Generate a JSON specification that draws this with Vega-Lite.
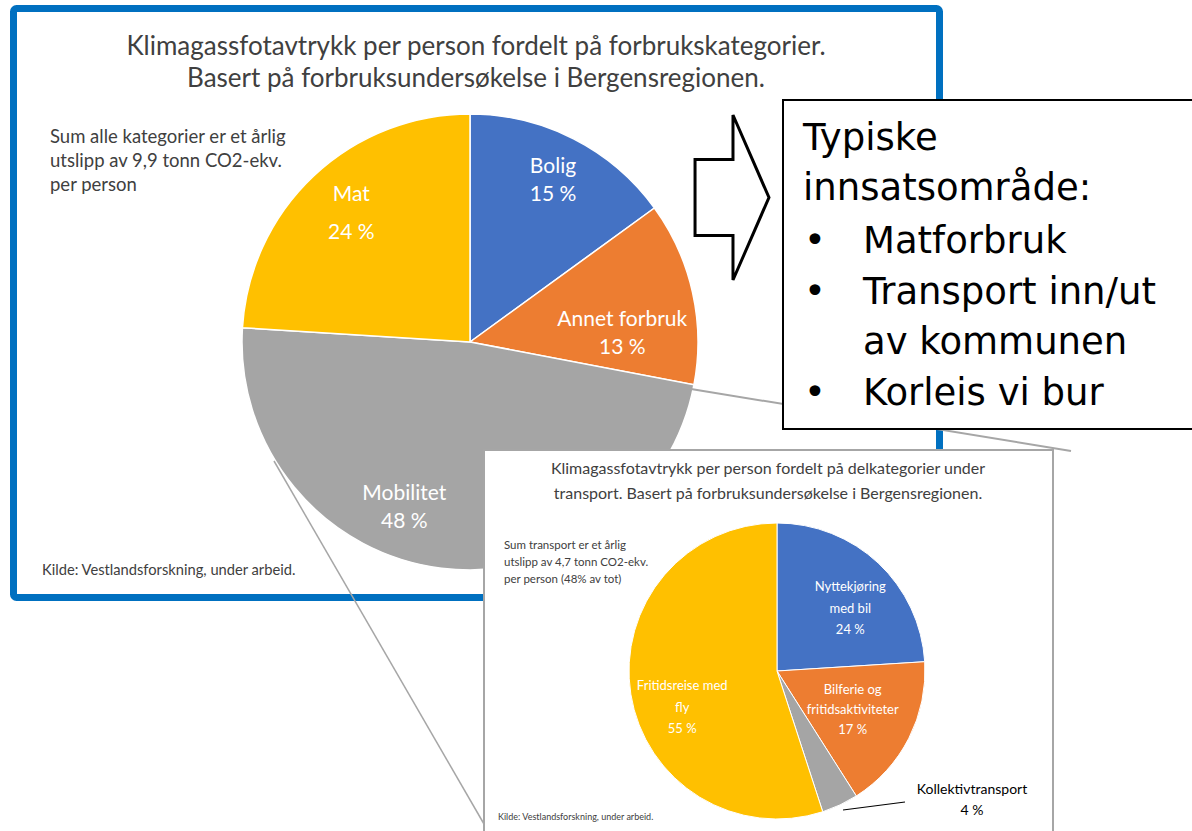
{
  "$schema": "https://vega.github.io/schema/vega-lite/v6.json",
  "width": 1192,
  "height": 831,
  "autosize": {"type": "fit", "contains": "padding"},
  "padding": 0,
  "background": "white",
  "config": {"view": {"stroke": null}},
  "resolve": {"scale": {"theta": "independent"}},
  "layer": [
    {
      "data": {"values": [{}]},
      "mark": {"type": "rect", "fill": "white", "stroke": "#0070C0", "strokeWidth": 7, "cornerRadius": 3},
      "encoding": {"x": {"value": 13.5}, "x2": {"value": 939.5}, "y": {"value": 8.5}, "y2": {"value": 597.5}}
    },
    {
      "data": {"values": [{}]},
      "mark": {"type": "text", "font": "Lato", "fontSize": 26, "fill": "#404040", "align": "center", "baseline": "alphabetic", "lineHeight": 32},
      "encoding": {"x": {"value": 476}, "y": {"value": 55}, "text": {"value": ["Klimagassfotavtrykk per person fordelt på forbrukskategorier.", "Basert på forbruksundersøkelse i Bergensregionen."]}}
    },
    {
      "data": {"values": [{}]},
      "mark": {"type": "text", "font": "Lato", "fontSize": 18.5, "fill": "#404040", "align": "left", "baseline": "alphabetic", "lineHeight": 24},
      "encoding": {"x": {"value": 50}, "y": {"value": 143}, "text": {"value": ["Sum alle kategorier er et årlig", "utslipp av 9,9 tonn CO2-ekv.", "per person"]}}
    },
    {
      "data": {"values": [{}]},
      "mark": {"type": "text", "font": "Lato", "fontSize": 14.7, "fill": "#404040", "align": "left", "baseline": "alphabetic"},
      "encoding": {"x": {"value": 42}, "y": {"value": 575}, "text": {"value": "Kilde: Vestlandsforskning, under arbeid."}}
    },
    {
      "data": {"values": [
        {"kategori": "Bolig", "andel": 15, "rekke": 1, "etikett": ["Bolig", "15 %"]},
        {"kategori": "Annet forbruk", "andel": 13, "rekke": 2, "etikett": ["Annet forbruk", "13 %"]},
        {"kategori": "Mobilitet", "andel": 48, "rekke": 3, "etikett": ["Mobilitet", "48 %"]},
        {"kategori": "Mat", "andel": 24, "rekke": 4, "etikett": ["Mat", "24  %"]}
      ]},
      "encoding": {
        "theta": {"field": "andel", "type": "quantitative", "stack": true},
        "order": {"field": "rekke", "type": "quantitative"},
        "x": {"value": 470},
        "y": {"value": 342}
      },
      "layer": [
        {
          "mark": {"type": "arc", "outerRadius": 228, "stroke": "white", "strokeWidth": 1.5},
          "encoding": {
            "color": {"field": "kategori", "type": "nominal", "legend": null,
              "scale": {"domain": ["Bolig", "Annet forbruk", "Mobilitet", "Mat", "Nyttekjøring med bil", "Bilferie og fritidsaktiviteter", "Kollektivtransport", "Fritidsreise med fly"],
                        "range": ["#4472C4", "#ED7D31", "#A5A5A5", "#FFC000", "#4472C4", "#ED7D31", "#A5A5A5", "#FFC000"]}}
          }
        },
        {
          "mark": {"type": "text", "radius": 196, "dx": -6, "font": "Lato", "fontSize": 21, "fill": "white", "align": "center", "baseline": "middle", "lineHeight": 28},
          "encoding": {"text": {"condition": {"test": "datum.kategori !== 'Bolig'", "value": ""}, "field": "etikett"}}
        },
        {
          "mark": {"type": "text", "radius": 156, "dy": 12, "font": "Lato", "fontSize": 21, "fill": "white", "align": "center", "baseline": "middle", "lineHeight": 28},
          "encoding": {"text": {"condition": {"test": "datum.kategori !== 'Annet forbruk'", "value": ""}, "field": "etikett"}}
        },
        {
          "mark": {"type": "text", "radius": 165, "dx": -45, "dy": -12, "font": "Lato", "fontSize": 21, "fill": "white", "align": "center", "baseline": "middle", "lineHeight": 28},
          "encoding": {"text": {"condition": {"test": "datum.kategori !== 'Mobilitet'", "value": ""}, "field": "etikett"}}
        },
        {
          "mark": {"type": "text", "radius": 188, "dx": 10, "dy": -10, "font": "Lato", "fontSize": 21, "fill": "white", "align": "center", "baseline": "middle", "lineHeight": 38},
          "encoding": {"text": {"condition": {"test": "datum.kategori !== 'Mat'", "value": ""}, "field": "etikett"}}
        }
      ]
    },
    {
      "data": {"values": [{}]},
      "mark": {"type": "rule", "stroke": "#A6A6A6", "strokeWidth": 1.5},
      "encoding": {"x": {"value": 274}, "y": {"value": 461}, "x2": {"value": 484}, "y2": {"value": 824}}
    },
    {
      "data": {"values": [{}]},
      "mark": {"type": "rule", "stroke": "#A6A6A6", "strokeWidth": 2},
      "encoding": {"x": {"value": 691}, "y": {"value": 389}, "x2": {"value": 1071}, "y2": {"value": 451}}
    },
    {
      "data": {"values": [{}]},
      "mark": {"type": "rect", "fill": "white", "stroke": "#A6A6A6", "strokeWidth": 2},
      "encoding": {"x": {"value": 484}, "x2": {"value": 1053}, "y": {"value": 450}, "y2": {"value": 845}}
    },
    {
      "data": {"values": [{}]},
      "mark": {"type": "text", "font": "Lato", "fontSize": 16, "fill": "#404040", "align": "center", "baseline": "alphabetic", "lineHeight": 25},
      "encoding": {"x": {"value": 768}, "y": {"value": 474}, "text": {"value": ["Klimagassfotavtrykk per person fordelt på delkategorier under", "transport. Basert på forbruksundersøkelse i Bergensregionen."]}}
    },
    {
      "data": {"values": [{}]},
      "mark": {"type": "text", "font": "Lato", "fontSize": 11.5, "fill": "#404040", "align": "left", "baseline": "alphabetic", "lineHeight": 17},
      "encoding": {"x": {"value": 504}, "y": {"value": 549}, "text": {"value": ["Sum transport er et årlig", "utslipp av 4,7 tonn CO2-ekv.", "per person (48% av tot)"]}}
    },
    {
      "data": {"values": [{}]},
      "mark": {"type": "text", "font": "Lato", "fontSize": 9, "fill": "#404040", "align": "left", "baseline": "alphabetic"},
      "encoding": {"x": {"value": 498}, "y": {"value": 820}, "text": {"value": "Kilde: Vestlandsforskning, under arbeid."}}
    },
    {
      "data": {"values": [
        {"kategori": "Nyttekjøring med bil", "andel": 24, "rekke": 1, "etikett": ["Nyttekjøring", "med bil", "24 %"]},
        {"kategori": "Bilferie og fritidsaktiviteter", "andel": 17, "rekke": 2, "etikett": ["Bilferie og", "fritidsaktiviteter", "17 %"]},
        {"kategori": "Kollektivtransport", "andel": 4, "rekke": 3, "etikett": ["Kollektivtransport", "4 %"]},
        {"kategori": "Fritidsreise med fly", "andel": 55, "rekke": 4, "etikett": ["Fritidsreise med", "fly", "55 %"]}
      ]},
      "encoding": {
        "theta": {"field": "andel", "type": "quantitative", "stack": true},
        "order": {"field": "rekke", "type": "quantitative"},
        "x": {"value": 777},
        "y": {"value": 671}
      },
      "layer": [
        {
          "mark": {"type": "arc", "outerRadius": 148, "stroke": "white", "strokeWidth": 1},
          "encoding": {
            "color": {"field": "kategori", "type": "nominal", "legend": null,
              "scale": {"domain": ["Bolig", "Annet forbruk", "Mobilitet", "Mat", "Nyttekjøring med bil", "Bilferie og fritidsaktiviteter", "Kollektivtransport", "Fritidsreise med fly"],
                        "range": ["#4472C4", "#ED7D31", "#A5A5A5", "#FFC000", "#4472C4", "#ED7D31", "#A5A5A5", "#FFC000"]}}
          }
        },
        {
          "mark": {"type": "text", "radius": 107, "dy": -6, "font": "Lato", "fontSize": 13, "fill": "white", "align": "center", "baseline": "middle", "lineHeight": 21.5},
          "encoding": {"text": {"condition": {"test": "datum.kategori !== 'Nyttekjøring med bil'", "value": ""}, "field": "etikett"}}
        },
        {
          "mark": {"type": "text", "radius": 85, "dy": -20, "font": "Lato", "fontSize": 13, "fill": "white", "align": "center", "baseline": "middle", "lineHeight": 20},
          "encoding": {"text": {"condition": {"test": "datum.kategori !== 'Bilferie og fritidsaktiviteter'", "value": ""}, "field": "etikett"}}
        },
        {
          "mark": {"type": "text", "radius": 96, "font": "Lato", "fontSize": 13, "fill": "white", "align": "center", "baseline": "middle", "lineHeight": 21.5},
          "encoding": {"text": {"condition": {"test": "datum.kategori !== 'Fritidsreise med fly'", "value": ""}, "field": "etikett"}}
        }
      ]
    },
    {
      "data": {"values": [{}]},
      "mark": {"type": "rule", "stroke": "#000000", "strokeWidth": 1.2},
      "encoding": {"x": {"value": 843}, "y": {"value": 810}, "x2": {"value": 905}, "y2": {"value": 802}}
    },
    {
      "data": {"values": [{}]},
      "mark": {"type": "text", "font": "Lato", "fontSize": 14, "fill": "#000000", "align": "center", "baseline": "alphabetic", "lineHeight": 21},
      "encoding": {"x": {"value": 972}, "y": {"value": 794}, "text": {"value": ["Kollektivtransport", "4 %"]}}
    },
    {
      "data": {"values": [{}]},
      "mark": {"type": "rect", "fill": "white", "stroke": "#000000", "strokeWidth": 2},
      "encoding": {"x": {"value": 783}, "x2": {"value": 1200}, "y": {"value": 100}, "y2": {"value": 429}}
    },
    {
      "data": {"values": [{}]},
      "mark": {"type": "point", "shape": "M-0.448,-0.46L0.012,-0.46L0.012,-1L0.448,0L0.012,1L0.012,0.46L-0.448,0.46Z", "filled": true, "fill": "white", "stroke": "#000000", "strokeWidth": 3, "opacity": 1, "size": 27225},
      "encoding": {"x": {"value": 732}, "y": {"value": 197.5}}
    },
    {
      "data": {"values": [{}]},
      "mark": {"type": "text", "font": "DejaVu Sans", "fontSize": 37, "fill": "#000000", "align": "left", "baseline": "alphabetic", "lineHeight": 50},
      "encoding": {"x": {"value": 803}, "y": {"value": 150}, "text": {"value": ["Typiske", "innsatsområde:"]}}
    },
    {
      "data": {"values": [{}]},
      "mark": {"type": "text", "font": "DejaVu Sans", "fontSize": 37, "fill": "#000000", "align": "left", "baseline": "alphabetic", "lineHeight": 50.7},
      "encoding": {"x": {"value": 863}, "y": {"value": 253}, "text": {"value": ["Matforbruk", "Transport inn/ut", "av kommunen", "Korleis vi bur"]}}
    },
    {
      "data": {"values": [{}]},
      "mark": {"type": "text", "font": "DejaVu Sans", "fontSize": 37, "fill": "#000000", "align": "left", "baseline": "alphabetic", "lineHeight": 50.7},
      "encoding": {"x": {"value": 804}, "y": {"value": 253}, "text": {"value": ["•", "•"]}}
    },
    {
      "data": {"values": [{}]},
      "mark": {"type": "text", "font": "DejaVu Sans", "fontSize": 37, "fill": "#000000", "align": "left", "baseline": "alphabetic"},
      "encoding": {"x": {"value": 804}, "y": {"value": 405}, "text": {"value": "•"}}
    }
  ]
}
